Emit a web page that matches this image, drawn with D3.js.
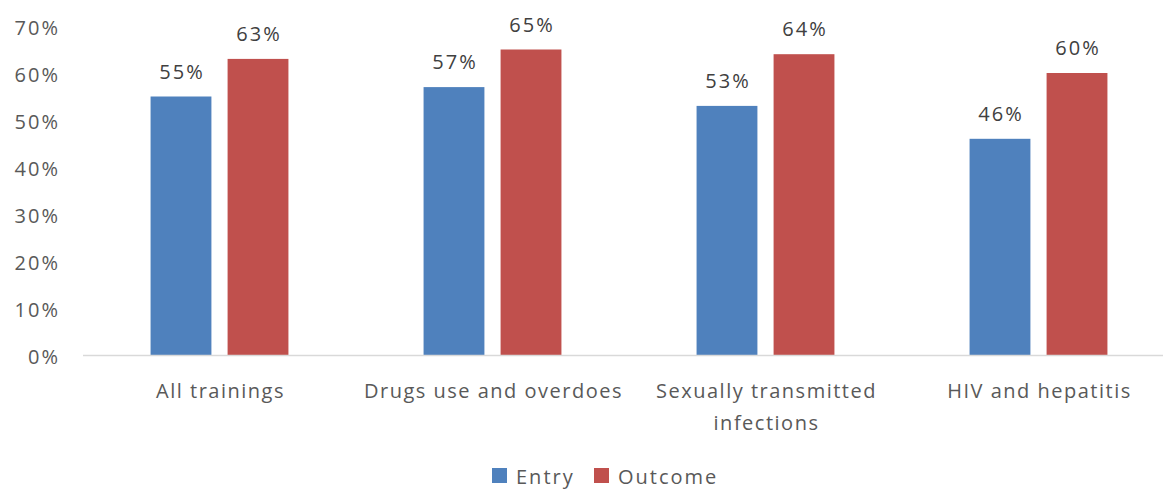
<!DOCTYPE html>
<html>
  <head>
    <meta charset="utf-8" />
    <script src="https://cdn.jsdelivr.net/npm/d3@7"></script>
    <style>
      * {
        margin: 0;
        padding: 0;
      }
      body {
        background-color: white;
        font-family: "Open Sans", sans-serif;
      }
      text {
        fill: #595959;
        font-size: 20px;
        letter-spacing: 1.5px;
      }
    </style>
  </head>
  <body>
    <div id="chart"></div>
    <script>
      const categories = [
        ["All trainings"],
        ["Drugs use and overdoes"],
        ["Sexually transmitted", "infections"],
        ["HIV and hepatitis"],
      ];
      const seriesNames = ["Entry", "Outcome"];
      const entry = [0.55, 0.57, 0.53, 0.46];
      const outcome = [0.63, 0.65, 0.64, 0.6];
      const yTicks = [0, 0.1, 0.2, 0.3, 0.4, 0.5, 0.6, 0.7];
      const colors = ["#4F81BD", "#C0504D"];

      const w = 1163;
      const h = 489;
      const plotLeft = 83;
      const plotRight = 1175;
      const plotTop = 26;
      const plotBottom = 355;

      const svg = d3
        .select("#chart")
        .append("svg")
        .attr("width", w)
        .attr("height", h);

      const x0 = d3
        .scaleBand()
        .domain(d3.range(categories.length))
        .range([plotLeft, plotRight])
        .paddingInner(0.495)
        .paddingOuter(0.2475);

      const x1 = d3
        .scaleBand()
        .domain(seriesNames)
        .range([0, x0.bandwidth()])
        .paddingInner(0.21);

      const y = d3.scaleLinear().domain([0, 0.7]).range([plotBottom, plotTop]);

      // y labels
      svg
        .selectAll(".ylab")
        .data(yTicks)
        .enter()
        .append("text")
        .attr("class", "ylab")
        .attr("x", 60)
        .attr("y", (d) => y(d) + 9)
        .attr("text-anchor", "end")
        .style("letter-spacing", "2px")
        .text((d) => d3.format(".0%")(d));

      const series = [entry, outcome];

      const groups = svg
        .selectAll(".grp")
        .data(categories)
        .enter()
        .append("g")
        .attr("transform", (d, i) => "translate(" + x0(i) + ",0)");

      groups
        .selectAll("rect")
        .data((d, i) => seriesNames.map((s, j) => ({ s, j, v: series[j][i] })))
        .enter()
        .append("rect")
        .attr("x", (d) => x1(d.s))
        .attr("y", (d) => y(d.v))
        .attr("width", x1.bandwidth())
        .attr("height", (d) => plotBottom - y(d.v))
        .attr("fill", (d) => colors[d.j]);

      groups
        .selectAll(".val")
        .data((d, i) => seriesNames.map((s, j) => ({ s, j, v: series[j][i] })))
        .enter()
        .append("text")
        .attr("class", "val")
        .attr("x", (d) => x1(d.s) + x1.bandwidth() / 2 + 1)
        .attr("y", (d) => y(d.v) - 18)
        .attr("text-anchor", "middle")
        .style("fill", "#404040")
        .style("letter-spacing", "2px")
        .text((d) => d3.format(".0%")(d.v));

      // axis line
      svg
        .append("line")
        .attr("x1", plotLeft)
        .attr("x2", plotRight)
        .attr("y1", plotBottom + 0.5)
        .attr("y2", plotBottom + 0.5)
        .attr("stroke", "#D9D9D9")
        .attr("stroke-width", 1.5);

      // category labels
      const catText = svg
        .selectAll(".cat")
        .data(categories)
        .enter()
        .append("text")
        .attr("class", "cat")
        .attr("text-anchor", "middle");
      catText
        .selectAll("tspan")
        .data((d, i) => d.map((line) => ({ line, i })))
        .enter()
        .append("tspan")
        .attr("x", (d) => x0(d.i) + x0.bandwidth() / 2 + 1)
        .attr("y", (d, k) => 398 + k * 32)
        .text((d) => d.line);

      // legend
      const legend = svg.append("g");
      const legX = [492, 594];
      seriesNames.forEach((s, j) => {
        legend
          .append("rect")
          .attr("x", legX[j])
          .attr("y", 468)
          .attr("width", 15)
          .attr("height", 15)
          .attr("fill", colors[j]);
        legend
          .append("text")
          .attr("x", legX[j] + 24)
          .attr("y", 484)
          .style("letter-spacing", "2px")
          .text(s);
      });
    </script>
  </body>
</html>
